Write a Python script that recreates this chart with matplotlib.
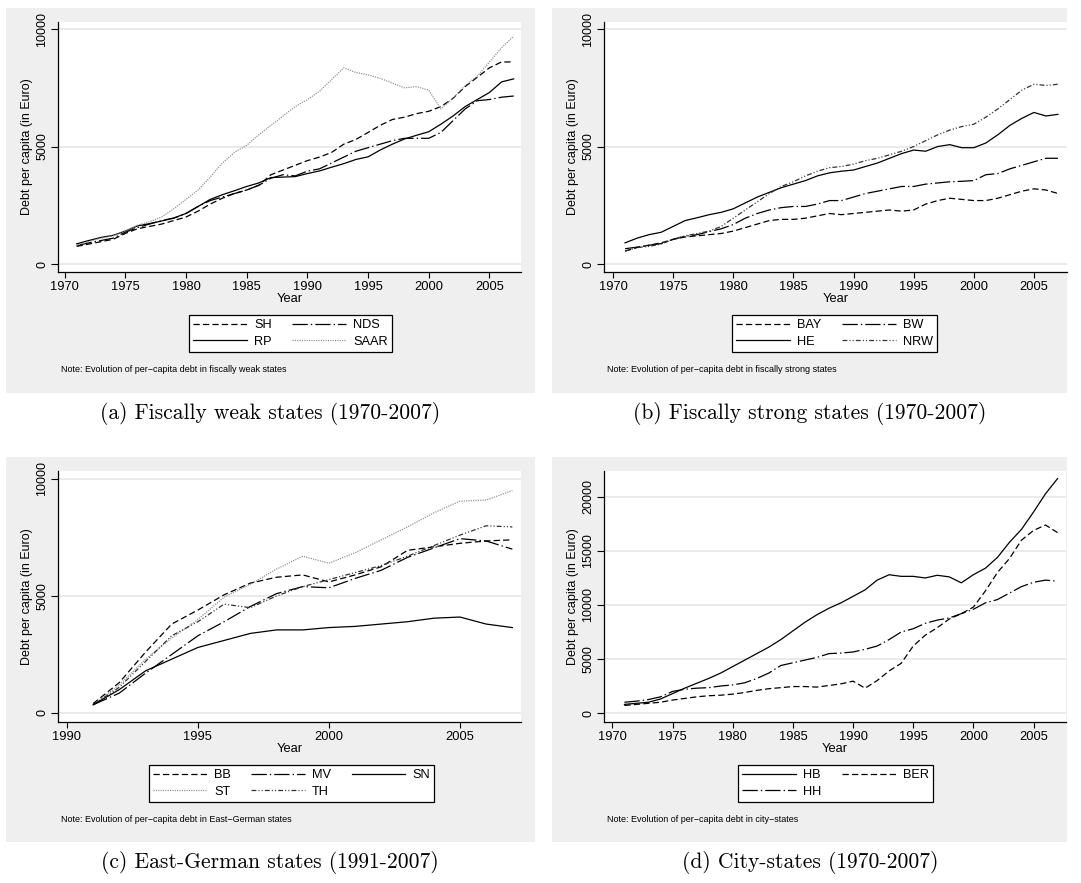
import matplotlib
matplotlib.use("Agg")
import matplotlib.pyplot as plt
from matplotlib.patches import Rectangle

# ---------------- data ----------------
years_70 = list(range(1971, 2008))
years_91 = list(range(1991, 2008))

# (a) fiscally weak states
SH = [750, 850, 950, 1050, 1300, 1500, 1600, 1700, 1850, 2000, 2250, 2550, 2800, 3000, 3150,
      3350, 3800, 4000, 4200, 4400, 4550, 4750, 5100, 5300, 5600, 5900, 6150, 6250, 6400, 6500,
      6700, 7050, 7550, 7950, 8350, 8600, 8600]
NDS = [780, 900, 1000, 1100, 1350, 1550, 1700, 1850, 1950, 2150, 2450, 2700, 2850, 3000, 3150,
       3350, 3650, 3800, 3750, 3950, 4050, 4300, 4550, 4800, 4950, 5100, 5250, 5350, 5350, 5350,
       5600, 6100, 6600, 6950, 7000, 7100, 7150]
RP = [860, 1000, 1130, 1220, 1400, 1620, 1720, 1830, 1960, 2150, 2450, 2750, 2950, 3120, 3300,
      3450, 3680, 3700, 3720, 3850, 3960, 4120, 4270, 4450, 4560, 4850, 5100, 5320, 5480, 5630,
      5950, 6300, 6700, 7000, 7300, 7750, 7880]
SAAR = [800, 950, 1100, 1200, 1400, 1650, 1800, 2000, 2350, 2750, 3150, 3700, 4300, 4750, 5050,
        5500, 5900, 6300, 6700, 7000, 7350, 7850, 8350, 8150, 8050, 7900, 7700, 7500, 7550, 7400,
        6600, 7050, 7600, 8000, 8600, 9200, 9700]

# (b) fiscally strong states
BAY = [550, 700, 800, 900, 1050, 1150, 1200, 1250, 1300, 1400, 1550, 1700, 1850, 1900, 1900,
       1950, 2050, 2150, 2100, 2150, 2200, 2250, 2300, 2250, 2300, 2550, 2700, 2800, 2750, 2700,
       2700, 2800, 2950, 3100, 3200, 3150, 3000]
BW = [650, 720, 800, 870, 1050, 1180, 1250, 1380, 1500, 1680, 1950, 2150, 2300, 2400, 2450,
      2450, 2550, 2700, 2700, 2850, 3000, 3100, 3200, 3300, 3300, 3400, 3450, 3500, 3520, 3550,
      3800, 3850, 4050, 4200, 4350, 4500, 4500]
HE = [900, 1100, 1250, 1350, 1600, 1850, 1970, 2100, 2200, 2350, 2600, 2850, 3050, 3250, 3400,
      3550, 3750, 3880, 3950, 4000, 4150, 4300, 4500, 4700, 4850, 4800, 5000, 5080, 4950, 4950,
      5150, 5500, 5900, 6200, 6450, 6300, 6370]
NRW = [550, 700, 750, 850, 1050, 1200, 1300, 1400, 1600, 1950, 2300, 2650, 3000, 3300, 3500,
       3750, 3950, 4100, 4150, 4250, 4400, 4500, 4650, 4800, 5000, 5250, 5500, 5700, 5850, 5950,
       6250, 6600, 7000, 7400, 7650, 7600, 7650]

# (c) East-German states
BB = [400, 1300, 2600, 3800, 4400, 5050, 5550, 5800, 5900, 5600, 5900, 6250, 6950, 7100, 7250, 7350, 7400]
MV = [350, 850, 1700, 2500, 3300, 3900, 4550, 5100, 5400, 5350, 5750, 6100, 6650, 7050, 7450, 7350, 7000]
SN = [350, 1000, 1800, 2300, 2800, 3100, 3400, 3550, 3550, 3650, 3700, 3800, 3900, 4050, 4100, 3800, 3650]
ST = [350, 1200, 2300, 3200, 4000, 4950, 5500, 6150, 6700, 6400, 6850, 7400, 7950, 8550, 9050, 9100, 9500]
TH = [350, 1100, 2200, 3300, 3900, 4650, 4500, 5000, 5400, 5700, 6000, 6300, 6700, 7150, 7600, 8000, 7950]

# (d) city-states
HB = [800, 900, 1000, 1300, 1800, 2300, 2750, 3200, 3700, 4300, 4900, 5500, 6100, 6800, 7600,
      8400, 9100, 9700, 10200, 10800, 11400, 12300, 12800, 12650, 12650, 12500, 12750, 12600, 12050, 12800,
      13400, 14400, 15800, 17000, 18600, 20300, 21700]
BER = [700, 800, 900, 1000, 1200, 1350, 1500, 1600, 1650, 1750, 1900, 2100, 2250, 2350, 2450,
       2450, 2400, 2550, 2700, 2950, 2300, 3000, 3900, 4600, 6200, 7200, 7900, 8700, 9200, 9800,
       11300, 13000, 14300, 16000, 16900, 17400, 16700]
HH = [1000, 1100, 1250, 1500, 2000, 2200, 2300, 2350, 2500, 2600, 2800, 3200, 3700, 4400, 4650,
      4900, 5150, 5500, 5550, 5650, 5900, 6200, 6800, 7500, 7800, 8300, 8600, 8800, 9200, 9600,
      10200, 10500, 11100, 11700, 12100, 12300, 12200]

yticks_small = [0, 5000, 10000]
yticks_city = [0, 5000, 10000, 15000, 20000]
xticks_70 = [1970, 1975, 1980, 1985, 1990, 1995, 2000, 2005]
xticks_91 = [1990, 1995, 2000, 2005]

notes = ["Note: Evolution of per\u2212capita debt in fiscally weak states",
         "Note: Evolution of per\u2212capita debt in fiscally strong states",
         "Note: Evolution of per\u2212capita debt in East\u2212German states",
         "Note: Evolution of per\u2212capita debt in city\u2212states"]
captions = ["(a) Fiscally weak states (1970-2007)",
            "(b) Fiscally strong states (1970-2007)",
            "(c) East-German states (1991-2007)",
            "(d) City-states (1970-2007)"]

# ---------------- styles ----------------
plt.rcParams["lines.scale_dashes"] = False
plt.rcParams["font.family"] = ["Liberation Sans", "DejaVu Sans"]
SANS = ["Liberation Sans", "DejaVu Sans"]

LW = 0.9
DASH = dict(color="black", lw=LW, linestyle=(0, (4.5, 2.3)))
LDD = dict(color="black", lw=LW, linestyle=(0, (11, 2.2, 1.0, 2.2)))
SOLID = dict(color="black", lw=LW, linestyle="-")
DOT = dict(color="#8a8a8a", lw=LW, linestyle=(0, (0.8, 0.9)))
DDOT = dict(color="#333333", lw=LW, linestyle=(0, (3.5, 1.5, 0.8, 1.5, 0.8, 1.5)))

W, H = 1081, 883
GRAY = "#efefef"

fig = plt.figure(figsize=(W / 100, H / 100), dpi=100)
fig.patch.set_facecolor("white")


def fbox(l, t, r, b):
    return [l / W, 1 - b / H, (r - l) / W, (b - t) / H]


def panel(gray, axbox, xlim, ylim, xticks, yticks, series, ncol, leg_box, note, note_xy,
          caption, cap_xy):
    gl, gt, gr, gb = gray
    fig.patches.append(Rectangle((gl / W, 1 - gb / H), (gr - gl) / W, (gb - gt) / H,
                                 transform=fig.transFigure, facecolor=GRAY,
                                 edgecolor="none", zorder=-5))
    ax = fig.add_axes(fbox(*axbox))
    ax.set_zorder(1)
    ax.set_facecolor("white")
    for x, y, lab, st in series:
        ax.plot(x, y, label=lab, **st)
    ax.set_xlim(*xlim)
    ax.set_ylim(*ylim)
    ax.set_xticks(xticks)
    ax.set_yticks(yticks)
    ax.set_yticklabels([str(v) for v in yticks], rotation=90, va="center")
    ax.grid(axis="y", color="#e4e4e4", lw=1.1)
    ax.set_axisbelow(True)
    for s in ["top", "right"]:
        ax.spines[s].set_visible(False)
    for s in ["left", "bottom"]:
        ax.spines[s].set_linewidth(0.9)
    ax.tick_params(axis="x", direction="out", length=4, width=0.8, labelsize=9.3, pad=2.5)
    ax.tick_params(axis="y", direction="out", length=5, width=0.8, labelsize=9.0, pad=2.0)
    ax.set_xlabel("Year", fontsize=9.3, labelpad=0)
    ax.set_ylabel("Debt per capita (in Euro)", fontsize=9.0)
    ax.yaxis.set_label_coords(-0.055, 0.5)
    handles, labels = ax.get_legend_handles_labels()
    leg = fig.legend(handles, labels, ncol=ncol, loc="upper left",
                     bbox_to_anchor=(leg_box[0] / W, 1 - leg_box[1] / H),
                     bbox_transform=fig.transFigure, borderaxespad=0,
                     fontsize=9.2, handlelength=4.2, handletextpad=0.55,
                     columnspacing=1.6, labelspacing=0.35, borderpad=0.35,
                     frameon=True, fancybox=False, edgecolor="black", facecolor="white",
                     framealpha=1)
    leg.get_frame().set_linewidth(0.9)
    fig.text(note_xy[0] / W, 1 - note_xy[1] / H, note, fontsize=6.5, ha="left", va="center",
             family=SANS)
    fig.text(cap_xy[0] / W, 1 - cap_xy[1] / H, caption, fontsize=15.5, ha="center",
             va="center", family=["cmr10", "DejaVu Serif"])
    return ax


panel((6, 8, 535, 393), (58, 22, 521, 272), (1969.46, 2007.6), (-340, 10300), xticks_70,
      yticks_small,
      [(years_70, SH, "SH", DASH), (years_70, RP, "RP", SOLID),
       (years_70, NDS, "NDS", LDD), (years_70, SAAR, "SAAR", DOT)],
      2, (189, 315), notes[0], (61, 370), captions[0], (270, 414))

panel((552, 8, 1067, 393), (604, 22, 1067, 272), (1969.25, 2007.75), (-340, 10300), xticks_70,
      yticks_small,
      [(years_70, BAY, "BAY", DASH), (years_70, HE, "HE", SOLID),
       (years_70, BW, "BW", LDD), (years_70, NRW, "NRW", DDOT)],
      2, (732, 315), notes[1], (607, 370), captions[1], (810, 414))

panel((6, 457, 535, 842), (58, 471, 521, 722), (1989.66, 2007.33), (-385, 10340), xticks_91,
      yticks_small,
      [(years_91, BB, "BB", DASH), (years_91, ST, "ST", DOT),
       (years_91, MV, "MV", LDD), (years_91, TH, "TH", DDOT),
       (years_91, SN, "SN", SOLID)],
      3, (149, 765), notes[2], (61, 819), captions[2], (270, 862))

panel((552, 457, 1067, 842), (604, 471, 1066, 722), (1969.3, 2007.7), (-830, 22400), xticks_70,
      yticks_city,
      [(years_70, HB, "HB", SOLID), (years_70, HH, "HH", LDD),
       (years_70, BER, "BER", DASH)],
      2, (738, 765), notes[3], (607, 819), captions[3], (810, 862))

fig.savefig("out.png", dpi=100, facecolor="white")
